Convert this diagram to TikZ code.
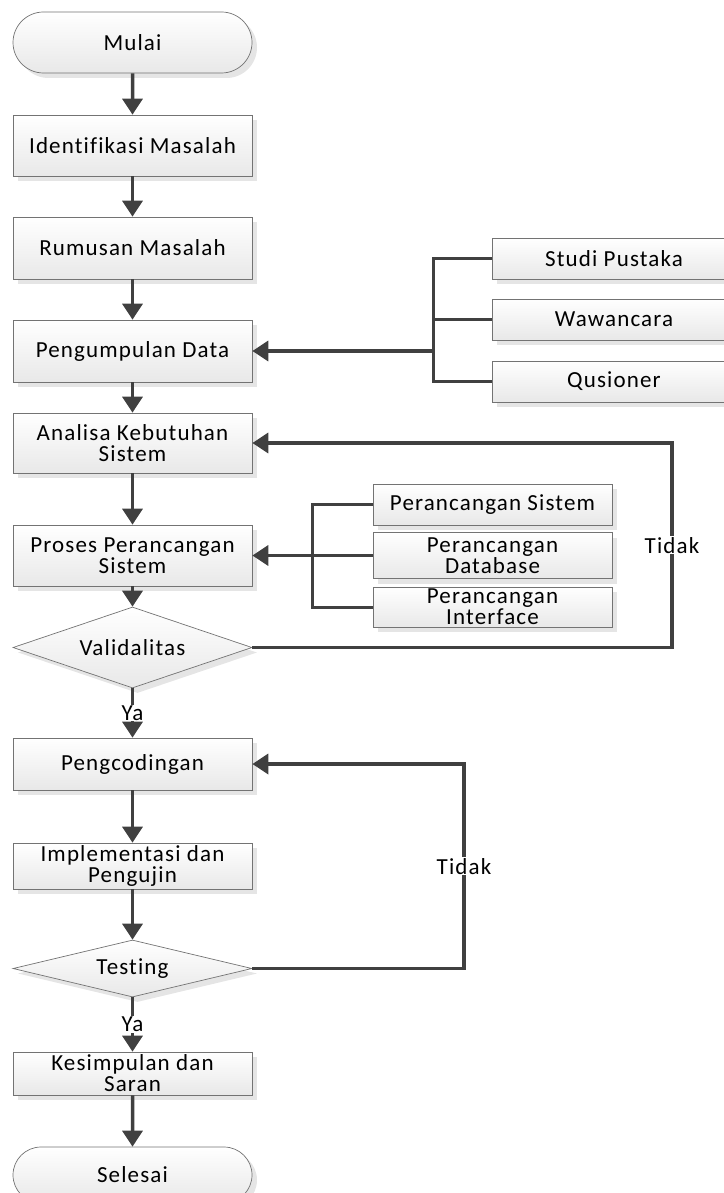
\documentclass[tikz,border=0pt]{standalone}
\usepackage{fontspec}
\setmainfont{Carlito}[LetterSpace=5,Ligatures=NoCommon]
\usetikzlibrary{shapes.geometric,shapes.misc,arrows.meta,shadows}

\tikzset{
  stepbox/.style={rectangle, draw=black!55, line width=0.7pt, top color=white, bottom color=black!9,
    minimum width=239pt, inner sep=0pt, align=center, font=\fontsize{23}{21}\selectfont,
    drop shadow={shadow xshift=5pt, shadow yshift=-5pt, fill=black!10, opacity=1}},
  sidebox/.style={stepbox, minimum width=244pt},
  designbox/.style={stepbox},
  terminal/.style={stepbox, rounded rectangle},
  decision/.style={stepbox, diamond, aspect=3, minimum width=239pt},
  flow/.style={draw=black!75, line width=3.5pt, -{Triangle[length=16pt,width=20pt]}},
  branch/.style={draw=black!75, line width=3pt},
  answer/.style={fill=white, inner sep=1pt, font=\fontsize{23}{21}\selectfont}
}

\begin{document}
\begin{tikzpicture}[x=1pt,y=-1pt]
\useasboundingbox (0,0) rectangle (723,1193);

\node (mulai) at (132.5,42.5) [terminal,minimum height=61pt] {Mulai};
\node (ident) at (132.5,145.5) [stepbox,minimum height=61pt] {Identifikasi Masalah};
\node (rumus) at (132.5,248) [stepbox,minimum height=62pt] {Rumusan Masalah};
\node (kumpul) at (132.5,351) [stepbox,minimum height=62pt] {Pengumpulan Data};
\node (analisa) at (132.5,443) [stepbox,minimum height=60pt] {Analisa Kebutuhan\\Sistem};
\node (proses) at (132.5,555.5) [stepbox,minimum height=61pt] {Proses Perancangan\\Sistem};
\node (valid) at (132.5,647.5) [decision,minimum height=81pt] {Validalitas};
\node (koding) at (132.5,764) [stepbox,minimum height=52pt] {Pengcodingan};
\node (implement) at (132.5,866) [stepbox,minimum height=46pt] {Implementasi dan\\Pengujin};
\node (testing) at (132.5,968.5) [decision,minimum height=57pt] {Testing};
\node (simpul) at (132.5,1073.5) [stepbox,minimum height=43pt] {Kesimpulan dan\\Saran};
\node (selesai) at (132.5,1175) [terminal,minimum height=56pt] {Selesai};

\node (studi) at (614,258.5) [sidebox,minimum height=41pt] {Studi Pustaka};
\node (wawan) at (614,319.5) [sidebox,minimum height=41pt] {Wawancara};
\node (qusi) at (614,381.5) [sidebox,minimum height=41pt] {Qusioner};

\node (psistem) at (492.5,504.5) [designbox,minimum height=41pt] {Perancangan Sistem};
\node (pdb) at (492.5,555.5) [designbox,minimum height=46pt] {Perancangan\\Database};
\node (pint) at (492.5,607) [designbox,minimum height=40pt] {Perancangan\\Interface};

\coordinate (joinData) at (433,351);
\coordinate (joinDesign) at (312,555.5);
\coordinate (backValid) at (672,647.5);
\coordinate (backTest) at (464,968.5);

\draw[flow] (mulai) -- (ident);
\draw[flow] (ident) -- (rumus);
\draw[flow] (rumus) -- (kumpul);
\draw[flow] (kumpul) -- (analisa);
\draw[flow] (analisa) -- (proses);
\draw[flow] (proses) -- (valid);
\draw[flow] (valid) -- (koding) node[midway,answer] {Ya};
\draw[flow] (koding) -- (implement);
\draw[flow] (implement) -- (testing);
\draw[flow] (testing) -- (simpul) node[midway,answer] {Ya};
\draw[flow] (simpul) -- (selesai);

\draw[branch] (studi.west) -| (joinData);
\draw[branch] (wawan.west) -- (wawan.west -| joinData);
\draw[branch] (qusi.west) -| (joinData);
\draw[flow] (joinData) -- (kumpul.east);

\draw[branch] (psistem.west) -| (joinDesign);
\draw[branch] (pdb.west) -- (joinDesign);
\draw[branch] (pint.west) -| (joinDesign);
\draw[flow] (joinDesign) -- (proses.east);

\draw[flow] (valid.east) -- (backValid) |- (analisa.east) node[pos=0.25,answer] {Tidak};
\draw[flow] (testing.east) -- (backTest) |- (koding.east) node[pos=0.25,answer] {Tidak};
\end{tikzpicture}
\end{document}
